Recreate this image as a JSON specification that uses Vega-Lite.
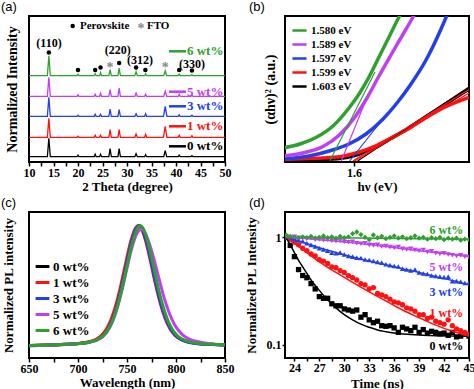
{
"$schema": "https://vega.github.io/schema/vega-lite/v6.json",
"padding": 0,
"background": "white",
"config": {
 "view": {"stroke": "#000", "strokeWidth": 2},
 "font": "Liberation Serif",
 "axis": {"domain": false, "grid": false, "labelFont": "Liberation Serif", "labelFontWeight": "bold", "labelFontSize": 12, "labelColor": "#000", "titleFont": "Liberation Serif", "titleFontWeight": "bold", "titleFontSize": 13, "titleColor": "#000", "tickColor": "#000", "tickWidth": 1.5, "tickSize": 4, "labelPadding": 1, "titlePadding": 2, "labelFlush": false, "labelOverlap": false},
 "legend": {"labelFont": "Liberation Serif", "labelFontWeight": "bold", "labelColor": "#000"},
 "title": {"font": "Liberation Sans", "fontWeight": "normal", "fontSize": 13, "color": "#000"}
},
"datasets": {
 "xrd": [
  {"s":"0 wt%","x":10,"y":5.3},{"s":"0 wt%","x":13.75,"y":5.3},{"s":"0 wt%","x":14.05,"y":23.8},{"s":"0 wt%","x":14.35,"y":5.3},{"s":"0 wt%","x":19.8,"y":5.3},{"s":"0 wt%","x":20,"y":6.8},{"s":"0 wt%","x":20.2,"y":5.3},{"s":"0 wt%","x":23.3,"y":5.3},{"s":"0 wt%","x":23.5,"y":7.8},{"s":"0 wt%","x":23.7,"y":5.3},{"s":"0 wt%","x":24.4,"y":5.3},{"s":"0 wt%","x":24.6,"y":7.8},{"s":"0 wt%","x":24.8,"y":5.3},{"s":"0 wt%","x":26.3,"y":5.3},{"s":"0 wt%","x":26.55,"y":13.3},{"s":"0 wt%","x":26.8,"y":5.3},{"s":"0 wt%","x":28.15,"y":5.3},{"s":"0 wt%","x":28.4,"y":13.3},{"s":"0 wt%","x":28.65,"y":5.3},{"s":"0 wt%","x":31.6,"y":5.3},{"s":"0 wt%","x":31.85,"y":8.3},{"s":"0 wt%","x":32.1,"y":5.3},{"s":"0 wt%","x":33.6,"y":5.3},{"s":"0 wt%","x":33.8,"y":7.3},{"s":"0 wt%","x":34,"y":5.3},{"s":"0 wt%","x":37.5,"y":5.3},{"s":"0 wt%","x":37.8,"y":11.3},{"s":"0 wt%","x":38.1,"y":5.3},{"s":"0 wt%","x":40.45,"y":5.3},{"s":"0 wt%","x":40.65,"y":6.8},{"s":"0 wt%","x":40.85,"y":5.3},{"s":"0 wt%","x":43.05,"y":5.3},{"s":"0 wt%","x":43.25,"y":6.3},{"s":"0 wt%","x":43.45,"y":5.3},{"s":"0 wt%","x":50,"y":5.3},
  {"s":"1 wt%","x":10,"y":24.7},{"s":"1 wt%","x":13.75,"y":24.7},{"s":"1 wt%","x":14.05,"y":43.7},{"s":"1 wt%","x":14.35,"y":24.7},{"s":"1 wt%","x":19.8,"y":24.7},{"s":"1 wt%","x":20,"y":25.7},{"s":"1 wt%","x":20.2,"y":24.7},{"s":"1 wt%","x":23.3,"y":24.7},{"s":"1 wt%","x":23.5,"y":26.7},{"s":"1 wt%","x":23.7,"y":24.7},{"s":"1 wt%","x":24.4,"y":24.7},{"s":"1 wt%","x":24.6,"y":26.7},{"s":"1 wt%","x":24.8,"y":24.7},{"s":"1 wt%","x":26.3,"y":24.7},{"s":"1 wt%","x":26.55,"y":32.3},{"s":"1 wt%","x":26.8,"y":24.7},{"s":"1 wt%","x":28.15,"y":24.7},{"s":"1 wt%","x":28.4,"y":32.3},{"s":"1 wt%","x":28.65,"y":24.7},{"s":"1 wt%","x":31.6,"y":24.7},{"s":"1 wt%","x":31.85,"y":28},{"s":"1 wt%","x":32.1,"y":24.7},{"s":"1 wt%","x":33.6,"y":24.7},{"s":"1 wt%","x":33.8,"y":27.7},{"s":"1 wt%","x":34,"y":24.7},{"s":"1 wt%","x":37.45,"y":24.7},{"s":"1 wt%","x":37.8,"y":35.7},{"s":"1 wt%","x":38.15,"y":24.7},{"s":"1 wt%","x":40.45,"y":24.7},{"s":"1 wt%","x":40.65,"y":26.7},{"s":"1 wt%","x":40.85,"y":24.7},{"s":"1 wt%","x":43.05,"y":24.7},{"s":"1 wt%","x":43.25,"y":26.2},{"s":"1 wt%","x":43.45,"y":24.7},{"s":"1 wt%","x":50,"y":24.7},
  {"s":"3 wt%","x":10,"y":45.7},{"s":"3 wt%","x":13.75,"y":45.7},{"s":"3 wt%","x":14.05,"y":64.7},{"s":"3 wt%","x":14.35,"y":45.7},{"s":"3 wt%","x":19.8,"y":45.7},{"s":"3 wt%","x":20,"y":46.7},{"s":"3 wt%","x":20.2,"y":45.7},{"s":"3 wt%","x":23.3,"y":45.7},{"s":"3 wt%","x":23.5,"y":47.7},{"s":"3 wt%","x":23.7,"y":45.7},{"s":"3 wt%","x":24.4,"y":45.7},{"s":"3 wt%","x":24.6,"y":47.7},{"s":"3 wt%","x":24.8,"y":45.7},{"s":"3 wt%","x":26.3,"y":45.7},{"s":"3 wt%","x":26.55,"y":53},{"s":"3 wt%","x":26.8,"y":45.7},{"s":"3 wt%","x":28.15,"y":45.7},{"s":"3 wt%","x":28.4,"y":52.4},{"s":"3 wt%","x":28.65,"y":45.7},{"s":"3 wt%","x":31.6,"y":45.7},{"s":"3 wt%","x":31.85,"y":48.2},{"s":"3 wt%","x":32.1,"y":45.7},{"s":"3 wt%","x":33.6,"y":45.7},{"s":"3 wt%","x":33.8,"y":48.2},{"s":"3 wt%","x":34,"y":45.7},{"s":"3 wt%","x":37.45,"y":45.7},{"s":"3 wt%","x":37.8,"y":55.7},{"s":"3 wt%","x":38.15,"y":45.7},{"s":"3 wt%","x":40.45,"y":45.7},{"s":"3 wt%","x":40.65,"y":47.2},{"s":"3 wt%","x":40.85,"y":45.7},{"s":"3 wt%","x":43.05,"y":45.7},{"s":"3 wt%","x":43.25,"y":46.7},{"s":"3 wt%","x":43.45,"y":45.7},{"s":"3 wt%","x":50,"y":45.7},
  {"s":"5 wt%","x":10,"y":65.7},{"s":"5 wt%","x":13.75,"y":65.7},{"s":"5 wt%","x":14.05,"y":84.7},{"s":"5 wt%","x":14.35,"y":65.7},{"s":"5 wt%","x":19.8,"y":65.7},{"s":"5 wt%","x":20,"y":67.2},{"s":"5 wt%","x":20.2,"y":65.7},{"s":"5 wt%","x":23.3,"y":65.7},{"s":"5 wt%","x":23.5,"y":67.7},{"s":"5 wt%","x":23.7,"y":65.7},{"s":"5 wt%","x":24.4,"y":65.7},{"s":"5 wt%","x":24.6,"y":68.7},{"s":"5 wt%","x":24.8,"y":65.7},{"s":"5 wt%","x":26.3,"y":65.7},{"s":"5 wt%","x":26.55,"y":72.4},{"s":"5 wt%","x":26.8,"y":65.7},{"s":"5 wt%","x":28.15,"y":65.7},{"s":"5 wt%","x":28.4,"y":74},{"s":"5 wt%","x":28.65,"y":65.7},{"s":"5 wt%","x":31.6,"y":65.7},{"s":"5 wt%","x":31.85,"y":69},{"s":"5 wt%","x":32.1,"y":65.7},{"s":"5 wt%","x":33.6,"y":65.7},{"s":"5 wt%","x":33.8,"y":67.7},{"s":"5 wt%","x":34,"y":65.7},{"s":"5 wt%","x":37.5,"y":65.7},{"s":"5 wt%","x":37.8,"y":70.7},{"s":"5 wt%","x":38.1,"y":65.7},{"s":"5 wt%","x":40.45,"y":65.7},{"s":"5 wt%","x":40.65,"y":67.7},{"s":"5 wt%","x":40.85,"y":65.7},{"s":"5 wt%","x":43.05,"y":65.7},{"s":"5 wt%","x":43.25,"y":66.7},{"s":"5 wt%","x":43.45,"y":65.7},{"s":"5 wt%","x":50,"y":65.7},
  {"s":"6 wt%","x":10,"y":86.3},{"s":"6 wt%","x":13.75,"y":86.3},{"s":"6 wt%","x":14.05,"y":106.3},{"s":"6 wt%","x":14.35,"y":86.3},{"s":"6 wt%","x":19.8,"y":86.3},{"s":"6 wt%","x":20,"y":87.8},{"s":"6 wt%","x":20.2,"y":86.3},{"s":"6 wt%","x":23.3,"y":86.3},{"s":"6 wt%","x":23.5,"y":88.3},{"s":"6 wt%","x":23.7,"y":86.3},{"s":"6 wt%","x":24.4,"y":86.3},{"s":"6 wt%","x":24.6,"y":89.3},{"s":"6 wt%","x":24.8,"y":86.3},{"s":"6 wt%","x":26.3,"y":86.3},{"s":"6 wt%","x":26.55,"y":92.3},{"s":"6 wt%","x":26.8,"y":86.3},{"s":"6 wt%","x":28.15,"y":86.3},{"s":"6 wt%","x":28.4,"y":94},{"s":"6 wt%","x":28.65,"y":86.3},{"s":"6 wt%","x":31.6,"y":86.3},{"s":"6 wt%","x":31.85,"y":90.3},{"s":"6 wt%","x":32.1,"y":86.3},{"s":"6 wt%","x":33.6,"y":86.3},{"s":"6 wt%","x":33.8,"y":88.3},{"s":"6 wt%","x":34,"y":86.3},{"s":"6 wt%","x":37.5,"y":86.3},{"s":"6 wt%","x":37.8,"y":91.3},{"s":"6 wt%","x":38.1,"y":86.3},{"s":"6 wt%","x":40.45,"y":86.3},{"s":"6 wt%","x":40.65,"y":87.8},{"s":"6 wt%","x":40.85,"y":86.3},{"s":"6 wt%","x":43.05,"y":86.3},{"s":"6 wt%","x":43.25,"y":87.3},{"s":"6 wt%","x":43.45,"y":86.3},{"s":"6 wt%","x":50,"y":86.3}
 ],
 "xrdseg": [
  {"s":"6 wt%","x":38.57,"x2":42.04,"y":110.7},{"s":"5 wt%","x":38.57,"x2":42.04,"y":70.3},{"s":"3 wt%","x":38.57,"x2":42.04,"y":55.7},{"s":"1 wt%","x":38.57,"x2":42.04,"y":35.7},{"s":"0 wt%","x":38.57,"x2":42.04,"y":15.7}
 ],
 "xrdlab": [
  {"s":"6 wt%","x":42.24,"y":110.7},{"s":"5 wt%","x":42.24,"y":70.3},{"s":"3 wt%","x":42.24,"y":55.7},{"s":"1 wt%","x":42.24,"y":35.7},{"s":"0 wt%","x":42.24,"y":15.7}
 ],
 "xrdpk": [
  {"t":"(110)","x":14.08,"y":119.5},{"t":"(220)","x":28.1,"y":111.7},{"t":"(312)","x":32.65,"y":102},{"t":"(330)","x":43.27,"y":98.4}
 ],
 "xrddot": [
  {"x":14.05,"y":109.4},{"x":20.0,"y":92},{"x":23.5,"y":92},{"x":24.6,"y":94.5},{"x":28.4,"y":99},{"x":31.85,"y":94.5},{"x":33.75,"y":92},{"x":40.65,"y":92},{"x":43.25,"y":91.5},{"x":18.92,"y":136}
 ],
 "xrdstar": [
  {"x":26.55,"y":97},{"x":37.8,"y":97},{"x":32.86,"y":136}
 ],
 "xrdleg": [
  {"t":"Perovskite","x":20.41,"y":136},{"t":"FTO","x":34.08,"y":136}
 ],
 "tauc": [
  {"s":"1.603 eV","e":1.5408,"y":0.5},{"s":"1.603 eV","e":1.5683,"y":1.2},{"s":"1.603 eV","e":1.5892,"y":2.8},{"s":"1.603 eV","e":1.6033,"y":6.5},{"s":"1.603 eV","e":1.6167,"y":13},{"s":"1.603 eV","e":1.6308,"y":22.5},{"s":"1.603 eV","e":1.645,"y":32.5},{"s":"1.603 eV","e":1.6583,"y":43},{"s":"1.603 eV","e":1.6725,"y":54},{"s":"1.603 eV","e":1.6958,"y":72},
  {"s":"1.599 eV","e":1.5408,"y":1.5},{"s":"1.599 eV","e":1.5683,"y":2.7},{"s":"1.599 eV","e":1.5892,"y":4.5},{"s":"1.599 eV","e":1.6033,"y":8.5},{"s":"1.599 eV","e":1.6167,"y":14.5},{"s":"1.599 eV","e":1.6308,"y":23},{"s":"1.599 eV","e":1.645,"y":32},{"s":"1.599 eV","e":1.6583,"y":42},{"s":"1.599 eV","e":1.6725,"y":52},{"s":"1.599 eV","e":1.6958,"y":63.5},
  {"s":"1.597 eV","e":1.5408,"y":2},{"s":"1.597 eV","e":1.5625,"y":5},{"s":"1.597 eV","e":1.5808,"y":10.5},{"s":"1.597 eV","e":1.5958,"y":17},{"s":"1.597 eV","e":1.61,"y":27},{"s":"1.597 eV","e":1.6242,"y":42},{"s":"1.597 eV","e":1.6358,"y":58},{"s":"1.597 eV","e":1.6475,"y":77},{"s":"1.597 eV","e":1.66,"y":101},{"s":"1.597 eV","e":1.6725,"y":132},{"s":"1.597 eV","e":1.6775,"y":146},{"s":"1.597 eV","e":1.6792,"y":151},
  {"s":"1.589 eV","e":1.5408,"y":5},{"s":"1.589 eV","e":1.5592,"y":8.5},{"s":"1.589 eV","e":1.5742,"y":14.5},{"s":"1.589 eV","e":1.5883,"y":26.5},{"s":"1.589 eV","e":1.6008,"y":44},{"s":"1.589 eV","e":1.6108,"y":63},{"s":"1.589 eV","e":1.6208,"y":85},{"s":"1.589 eV","e":1.6308,"y":106},{"s":"1.589 eV","e":1.64,"y":125},{"s":"1.589 eV","e":1.6492,"y":144},{"s":"1.589 eV","e":1.6525,"y":151},
  {"s":"1.580 eV","e":1.5408,"y":13},{"s":"1.580 eV","e":1.555,"y":17},{"s":"1.580 eV","e":1.5683,"y":23.5},{"s":"1.580 eV","e":1.5825,"y":35},{"s":"1.580 eV","e":1.5958,"y":53},{"s":"1.580 eV","e":1.6042,"y":67},{"s":"1.580 eV","e":1.6125,"y":84},{"s":"1.580 eV","e":1.6208,"y":104},{"s":"1.580 eV","e":1.6292,"y":124},{"s":"1.580 eV","e":1.6375,"y":144},{"s":"1.580 eV","e":1.6417,"y":153}
 ],
 "tangent": [
  {"s":"1.603 eV","g":"k","e":1.603,"y":0},{"s":"1.603 eV","g":"k","e":1.6958,"y":74},
  {"s":"1.599 eV","g":"r1","e":1.599,"y":0},{"s":"1.599 eV","g":"r1","e":1.6958,"y":71.5},
  {"s":"1.599 eV","g":"r2","e":1.6005,"y":0},{"s":"1.599 eV","g":"r2","e":1.6958,"y":68},
  {"s":"1.597 eV","g":"b","e":1.5964,"y":0},{"s":"1.597 eV","g":"b","e":1.626,"y":45},
  {"s":"1.589 eV","g":"p","e":1.5894,"y":0},{"s":"1.589 eV","g":"p","e":1.6103,"y":62},
  {"s":"1.580 eV","g":"g","e":1.5798,"y":0},{"s":"1.580 eV","g":"g","e":1.6175,"y":89}
 ],
 "pl": [
  {"s":"0 wt%","w":650,"v":0.086},{"s":"0 wt%","w":660,"v":0.087},{"s":"0 wt%","w":670,"v":0.089},{"s":"0 wt%","w":680,"v":0.091},{"s":"0 wt%","w":690,"v":0.095},{"s":"0 wt%","w":700,"v":0.099},{"s":"0 wt%","w":710,"v":0.108},{"s":"0 wt%","w":720,"v":0.130},{"s":"0 wt%","w":725,"v":0.155},{"s":"0 wt%","w":730,"v":0.198},{"s":"0 wt%","w":735,"v":0.269},{"s":"0 wt%","w":740,"v":0.372},{"s":"0 wt%","w":745,"v":0.507},{"s":"0 wt%","w":750,"v":0.661},{"s":"0 wt%","w":755,"v":0.803},{"s":"0 wt%","w":760,"v":0.893},{"s":"0 wt%","w":762.5,"v":0.905},{"s":"0 wt%","w":765,"v":0.893},{"s":"0 wt%","w":770,"v":0.803},{"s":"0 wt%","w":775,"v":0.661},{"s":"0 wt%","w":780,"v":0.507},{"s":"0 wt%","w":785,"v":0.372},{"s":"0 wt%","w":790,"v":0.269},{"s":"0 wt%","w":795,"v":0.198},{"s":"0 wt%","w":800,"v":0.155},{"s":"0 wt%","w":805,"v":0.130},{"s":"0 wt%","w":810,"v":0.116},{"s":"0 wt%","w":820,"v":0.102},{"s":"0 wt%","w":830,"v":0.096},{"s":"0 wt%","w":840,"v":0.093},{"s":"0 wt%","w":850,"v":0.090},
  {"s":"1 wt%","w":650,"v":0.086},{"s":"1 wt%","w":659,"v":0.087},{"s":"1 wt%","w":669,"v":0.089},{"s":"1 wt%","w":679,"v":0.091},{"s":"1 wt%","w":689,"v":0.095},{"s":"1 wt%","w":699,"v":0.099},{"s":"1 wt%","w":709,"v":0.108},{"s":"1 wt%","w":719,"v":0.130},{"s":"1 wt%","w":724,"v":0.155},{"s":"1 wt%","w":729,"v":0.198},{"s":"1 wt%","w":734,"v":0.269},{"s":"1 wt%","w":739,"v":0.372},{"s":"1 wt%","w":744,"v":0.507},{"s":"1 wt%","w":749,"v":0.661},{"s":"1 wt%","w":754,"v":0.803},{"s":"1 wt%","w":759,"v":0.893},{"s":"1 wt%","w":761.5,"v":0.905},{"s":"1 wt%","w":764,"v":0.893},{"s":"1 wt%","w":769,"v":0.803},{"s":"1 wt%","w":774,"v":0.661},{"s":"1 wt%","w":779,"v":0.507},{"s":"1 wt%","w":784,"v":0.372},{"s":"1 wt%","w":789,"v":0.269},{"s":"1 wt%","w":794,"v":0.198},{"s":"1 wt%","w":799,"v":0.155},{"s":"1 wt%","w":804,"v":0.130},{"s":"1 wt%","w":809,"v":0.116},{"s":"1 wt%","w":819,"v":0.102},{"s":"1 wt%","w":829,"v":0.096},{"s":"1 wt%","w":839,"v":0.093},{"s":"1 wt%","w":850,"v":0.090},
  {"s":"3 wt%","w":650,"v":0.084},{"s":"3 wt%","w":660,"v":0.085},{"s":"3 wt%","w":670,"v":0.087},{"s":"3 wt%","w":680,"v":0.090},{"s":"3 wt%","w":690,"v":0.094},{"s":"3 wt%","w":700,"v":0.098},{"s":"3 wt%","w":710,"v":0.106},{"s":"3 wt%","w":720,"v":0.127},{"s":"3 wt%","w":725,"v":0.150},{"s":"3 wt%","w":730,"v":0.192},{"s":"3 wt%","w":735,"v":0.262},{"s":"3 wt%","w":740,"v":0.365},{"s":"3 wt%","w":745,"v":0.503},{"s":"3 wt%","w":750,"v":0.660},{"s":"3 wt%","w":755,"v":0.805},{"s":"3 wt%","w":760,"v":0.895},{"s":"3 wt%","w":762,"v":0.905},{"s":"3 wt%","w":765,"v":0.890},{"s":"3 wt%","w":770,"v":0.795},{"s":"3 wt%","w":775,"v":0.650},{"s":"3 wt%","w":780,"v":0.495},{"s":"3 wt%","w":785,"v":0.362},{"s":"3 wt%","w":790,"v":0.262},{"s":"3 wt%","w":795,"v":0.193},{"s":"3 wt%","w":800,"v":0.151},{"s":"3 wt%","w":805,"v":0.127},{"s":"3 wt%","w":810,"v":0.113},{"s":"3 wt%","w":820,"v":0.100},{"s":"3 wt%","w":830,"v":0.094},{"s":"3 wt%","w":840,"v":0.091},{"s":"3 wt%","w":850,"v":0.088},
  {"s":"5 wt%","w":650,"v":0.085},{"s":"5 wt%","w":660,"v":0.086},{"s":"5 wt%","w":670,"v":0.088},{"s":"5 wt%","w":680,"v":0.090},{"s":"5 wt%","w":690,"v":0.094},{"s":"5 wt%","w":700,"v":0.098},{"s":"5 wt%","w":710,"v":0.106},{"s":"5 wt%","w":720,"v":0.124},{"s":"5 wt%","w":725,"v":0.145},{"s":"5 wt%","w":730,"v":0.182},{"s":"5 wt%","w":735,"v":0.245},{"s":"5 wt%","w":740,"v":0.340},{"s":"5 wt%","w":745,"v":0.468},{"s":"5 wt%","w":750,"v":0.615},{"s":"5 wt%","w":755,"v":0.755},{"s":"5 wt%","w":760,"v":0.850},{"s":"5 wt%","w":764,"v":0.880},{"s":"5 wt%","w":767,"v":0.872},{"s":"5 wt%","w":772,"v":0.800},{"s":"5 wt%","w":778,"v":0.665},{"s":"5 wt%","w":783,"v":0.535},{"s":"5 wt%","w":788,"v":0.410},{"s":"5 wt%","w":793,"v":0.310},{"s":"5 wt%","w":798,"v":0.235},{"s":"5 wt%","w":803,"v":0.185},{"s":"5 wt%","w":808,"v":0.152},{"s":"5 wt%","w":814,"v":0.128},{"s":"5 wt%","w":825,"v":0.108},{"s":"5 wt%","w":835,"v":0.098},{"s":"5 wt%","w":845,"v":0.092},{"s":"5 wt%","w":850,"v":0.090},
  {"s":"6 wt%","w":650,"v":0.086},{"s":"6 wt%","w":661,"v":0.087},{"s":"6 wt%","w":671,"v":0.089},{"s":"6 wt%","w":681,"v":0.091},{"s":"6 wt%","w":691,"v":0.095},{"s":"6 wt%","w":701,"v":0.099},{"s":"6 wt%","w":711,"v":0.108},{"s":"6 wt%","w":721,"v":0.130},{"s":"6 wt%","w":726,"v":0.155},{"s":"6 wt%","w":731,"v":0.198},{"s":"6 wt%","w":736,"v":0.269},{"s":"6 wt%","w":741,"v":0.372},{"s":"6 wt%","w":746,"v":0.507},{"s":"6 wt%","w":751,"v":0.661},{"s":"6 wt%","w":756,"v":0.803},{"s":"6 wt%","w":761,"v":0.893},{"s":"6 wt%","w":763.5,"v":0.905},{"s":"6 wt%","w":766,"v":0.893},{"s":"6 wt%","w":771,"v":0.803},{"s":"6 wt%","w":776,"v":0.661},{"s":"6 wt%","w":781,"v":0.507},{"s":"6 wt%","w":786,"v":0.372},{"s":"6 wt%","w":791,"v":0.269},{"s":"6 wt%","w":796,"v":0.198},{"s":"6 wt%","w":801,"v":0.155},{"s":"6 wt%","w":806,"v":0.130},{"s":"6 wt%","w":811,"v":0.116},{"s":"6 wt%","w":821,"v":0.102},{"s":"6 wt%","w":831,"v":0.096},{"s":"6 wt%","w":841,"v":0.093},{"s":"6 wt%","w":850,"v":0.090}
 ],
 "trpl": [
  {"s":"0 wt%","t":23.0,"v":1.0},{"s":"0 wt%","t":23.5,"v":0.84},{"s":"0 wt%","t":24.0,"v":0.66},{"s":"0 wt%","t":24.5,"v":0.5},{"s":"0 wt%","t":25.0,"v":0.44},{"s":"0 wt%","t":25.5,"v":0.42},{"s":"0 wt%","t":26.0,"v":0.37},{"s":"0 wt%","t":26.5,"v":0.33},{"s":"0 wt%","t":27.0,"v":0.28},{"s":"0 wt%","t":27.5,"v":0.27},{"s":"0 wt%","t":28.0,"v":0.27},{"s":"0 wt%","t":28.5,"v":0.24},{"s":"0 wt%","t":29.0,"v":0.23},{"s":"0 wt%","t":29.5,"v":0.23},{"s":"0 wt%","t":30.0,"v":0.215},{"s":"0 wt%","t":30.5,"v":0.21},{"s":"0 wt%","t":31.0,"v":0.205},{"s":"0 wt%","t":31.5,"v":0.21},{"s":"0 wt%","t":32.0,"v":0.18},{"s":"0 wt%","t":32.5,"v":0.19},{"s":"0 wt%","t":33.0,"v":0.17},{"s":"0 wt%","t":33.5,"v":0.16},{"s":"0 wt%","t":34.0,"v":0.165},{"s":"0 wt%","t":34.5,"v":0.15},{"s":"0 wt%","t":35.0,"v":0.148},{"s":"0 wt%","t":35.5,"v":0.15},{"s":"0 wt%","t":36.0,"v":0.143},{"s":"0 wt%","t":36.5,"v":0.13},{"s":"0 wt%","t":37.0,"v":0.145},{"s":"0 wt%","t":37.5,"v":0.14},{"s":"0 wt%","t":38.0,"v":0.135},{"s":"0 wt%","t":38.5,"v":0.145},{"s":"0 wt%","t":39.0,"v":0.13},{"s":"0 wt%","t":39.5,"v":0.138},{"s":"0 wt%","t":40.0,"v":0.128},{"s":"0 wt%","t":40.5,"v":0.133},{"s":"0 wt%","t":41.0,"v":0.13},{"s":"0 wt%","t":41.5,"v":0.126},{"s":"0 wt%","t":42.0,"v":0.128},{"s":"0 wt%","t":42.5,"v":0.122},{"s":"0 wt%","t":43.0,"v":0.13},{"s":"0 wt%","t":43.5,"v":0.118},{"s":"0 wt%","t":44.0,"v":0.12},{"s":"0 wt%","t":44.5,"v":0.125},{"s":"0 wt%","t":45.0,"v":0.12},
  {"s":"1 wt%","t":23.0,"v":1.0},{"s":"1 wt%","t":23.5,"v":0.96},{"s":"1 wt%","t":24.0,"v":0.9},{"s":"1 wt%","t":24.5,"v":0.85},{"s":"1 wt%","t":25.0,"v":0.79},{"s":"1 wt%","t":25.5,"v":0.75},{"s":"1 wt%","t":26.0,"v":0.7},{"s":"1 wt%","t":26.5,"v":0.67},{"s":"1 wt%","t":27.0,"v":0.62},{"s":"1 wt%","t":27.5,"v":0.6},{"s":"1 wt%","t":28.0,"v":0.57},{"s":"1 wt%","t":28.5,"v":0.53},{"s":"1 wt%","t":29.0,"v":0.52},{"s":"1 wt%","t":29.5,"v":0.49},{"s":"1 wt%","t":30.0,"v":0.47},{"s":"1 wt%","t":30.5,"v":0.44},{"s":"1 wt%","t":31.0,"v":0.42},{"s":"1 wt%","t":31.5,"v":0.4},{"s":"1 wt%","t":32.0,"v":0.37},{"s":"1 wt%","t":32.5,"v":0.36},{"s":"1 wt%","t":33.0,"v":0.33},{"s":"1 wt%","t":33.5,"v":0.34},{"s":"1 wt%","t":34.0,"v":0.3},{"s":"1 wt%","t":34.5,"v":0.29},{"s":"1 wt%","t":35.0,"v":0.28},{"s":"1 wt%","t":35.5,"v":0.265},{"s":"1 wt%","t":36.0,"v":0.25},{"s":"1 wt%","t":36.5,"v":0.245},{"s":"1 wt%","t":37.0,"v":0.235},{"s":"1 wt%","t":37.5,"v":0.22},{"s":"1 wt%","t":38.0,"v":0.215},{"s":"1 wt%","t":38.5,"v":0.205},{"s":"1 wt%","t":39.0,"v":0.19},{"s":"1 wt%","t":39.5,"v":0.19},{"s":"1 wt%","t":40.0,"v":0.175},{"s":"1 wt%","t":40.5,"v":0.18},{"s":"1 wt%","t":41.0,"v":0.165},{"s":"1 wt%","t":41.5,"v":0.16},{"s":"1 wt%","t":42.0,"v":0.155},{"s":"1 wt%","t":42.5,"v":0.17},{"s":"1 wt%","t":43.0,"v":0.15},{"s":"1 wt%","t":43.5,"v":0.14},{"s":"1 wt%","t":44.0,"v":0.135},{"s":"1 wt%","t":44.5,"v":0.13},{"s":"1 wt%","t":45.0,"v":0.125},
  {"s":"3 wt%","t":23.0,"v":1.0},{"s":"3 wt%","t":23.5,"v":0.98},{"s":"3 wt%","t":24.0,"v":0.96},{"s":"3 wt%","t":24.5,"v":0.94},{"s":"3 wt%","t":25.0,"v":0.92},{"s":"3 wt%","t":25.5,"v":0.88},{"s":"3 wt%","t":26.0,"v":0.85},{"s":"3 wt%","t":26.5,"v":0.82},{"s":"3 wt%","t":27.0,"v":0.79},{"s":"3 wt%","t":27.5,"v":0.77},{"s":"3 wt%","t":28.0,"v":0.75},{"s":"3 wt%","t":28.5,"v":0.72},{"s":"3 wt%","t":29.0,"v":0.71},{"s":"3 wt%","t":29.5,"v":0.72},{"s":"3 wt%","t":30.0,"v":0.69},{"s":"3 wt%","t":30.5,"v":0.67},{"s":"3 wt%","t":31.0,"v":0.66},{"s":"3 wt%","t":31.5,"v":0.645},{"s":"3 wt%","t":32.0,"v":0.64},{"s":"3 wt%","t":32.5,"v":0.62},{"s":"3 wt%","t":33.0,"v":0.615},{"s":"3 wt%","t":33.5,"v":0.6},{"s":"3 wt%","t":34.0,"v":0.59},{"s":"3 wt%","t":34.5,"v":0.58},{"s":"3 wt%","t":35.0,"v":0.56},{"s":"3 wt%","t":35.5,"v":0.55},{"s":"3 wt%","t":36.0,"v":0.54},{"s":"3 wt%","t":36.5,"v":0.535},{"s":"3 wt%","t":37.0,"v":0.51},{"s":"3 wt%","t":37.5,"v":0.5},{"s":"3 wt%","t":38.0,"v":0.49},{"s":"3 wt%","t":38.5,"v":0.5},{"s":"3 wt%","t":39.0,"v":0.47},{"s":"3 wt%","t":39.5,"v":0.46},{"s":"3 wt%","t":40.0,"v":0.455},{"s":"3 wt%","t":40.5,"v":0.44},{"s":"3 wt%","t":41.0,"v":0.435},{"s":"3 wt%","t":41.5,"v":0.43},{"s":"3 wt%","t":42.0,"v":0.425},{"s":"3 wt%","t":42.5,"v":0.43},{"s":"3 wt%","t":43.0,"v":0.39},{"s":"3 wt%","t":43.5,"v":0.39},{"s":"3 wt%","t":44.0,"v":0.385},{"s":"3 wt%","t":44.5,"v":0.375},{"s":"3 wt%","t":45.0,"v":0.38},
  {"s":"5 wt%","t":23.0,"v":1.02},{"s":"5 wt%","t":23.5,"v":1.0},{"s":"5 wt%","t":24.0,"v":1.01},{"s":"5 wt%","t":24.5,"v":0.99},{"s":"5 wt%","t":25.0,"v":0.98},{"s":"5 wt%","t":25.5,"v":0.97},{"s":"5 wt%","t":26.0,"v":0.98},{"s":"5 wt%","t":26.5,"v":0.95},{"s":"5 wt%","t":27.0,"v":0.96},{"s":"5 wt%","t":27.5,"v":0.94},{"s":"5 wt%","t":28.0,"v":0.95},{"s":"5 wt%","t":28.5,"v":0.93},{"s":"5 wt%","t":29.0,"v":0.92},{"s":"5 wt%","t":29.5,"v":0.93},{"s":"5 wt%","t":30.0,"v":0.91},{"s":"5 wt%","t":30.5,"v":0.9},{"s":"5 wt%","t":31.0,"v":0.91},{"s":"5 wt%","t":31.5,"v":0.88},{"s":"5 wt%","t":32.0,"v":0.87},{"s":"5 wt%","t":32.5,"v":0.88},{"s":"5 wt%","t":33.0,"v":0.85},{"s":"5 wt%","t":33.5,"v":0.84},{"s":"5 wt%","t":34.0,"v":0.85},{"s":"5 wt%","t":34.5,"v":0.82},{"s":"5 wt%","t":35.0,"v":0.83},{"s":"5 wt%","t":35.5,"v":0.81},{"s":"5 wt%","t":36.0,"v":0.8},{"s":"5 wt%","t":36.5,"v":0.81},{"s":"5 wt%","t":37.0,"v":0.78},{"s":"5 wt%","t":37.5,"v":0.77},{"s":"5 wt%","t":38.0,"v":0.78},{"s":"5 wt%","t":38.5,"v":0.76},{"s":"5 wt%","t":39.0,"v":0.75},{"s":"5 wt%","t":39.5,"v":0.76},{"s":"5 wt%","t":40.0,"v":0.73},{"s":"5 wt%","t":40.5,"v":0.74},{"s":"5 wt%","t":41.0,"v":0.71},{"s":"5 wt%","t":41.5,"v":0.7},{"s":"5 wt%","t":42.0,"v":0.71},{"s":"5 wt%","t":42.5,"v":0.69},{"s":"5 wt%","t":43.0,"v":0.68},{"s":"5 wt%","t":43.5,"v":0.67},{"s":"5 wt%","t":44.0,"v":0.68},{"s":"5 wt%","t":44.5,"v":0.66},{"s":"5 wt%","t":45.0,"v":0.65},
  {"s":"6 wt%","t":23.0,"v":1.05},{"s":"6 wt%","t":23.5,"v":1.02},{"s":"6 wt%","t":24.0,"v":1.0},{"s":"6 wt%","t":24.5,"v":0.98},{"s":"6 wt%","t":25.0,"v":1.01},{"s":"6 wt%","t":25.5,"v":0.99},{"s":"6 wt%","t":26.0,"v":1.02},{"s":"6 wt%","t":26.5,"v":0.98},{"s":"6 wt%","t":27.0,"v":1.0},{"s":"6 wt%","t":27.5,"v":1.03},{"s":"6 wt%","t":28.0,"v":0.99},{"s":"6 wt%","t":28.5,"v":1.01},{"s":"6 wt%","t":29.0,"v":0.98},{"s":"6 wt%","t":29.5,"v":1.02},{"s":"6 wt%","t":30.0,"v":0.99},{"s":"6 wt%","t":30.5,"v":1.01},{"s":"6 wt%","t":31.0,"v":1.08},{"s":"6 wt%","t":31.5,"v":1.12},{"s":"6 wt%","t":32.0,"v":1.06},{"s":"6 wt%","t":32.5,"v":1.0},{"s":"6 wt%","t":33.0,"v":0.95},{"s":"6 wt%","t":33.5,"v":1.05},{"s":"6 wt%","t":34.0,"v":0.99},{"s":"6 wt%","t":34.5,"v":1.02},{"s":"6 wt%","t":35.0,"v":0.97},{"s":"6 wt%","t":35.5,"v":1.0},{"s":"6 wt%","t":36.0,"v":1.03},{"s":"6 wt%","t":36.5,"v":0.98},{"s":"6 wt%","t":37.0,"v":1.01},{"s":"6 wt%","t":37.5,"v":0.97},{"s":"6 wt%","t":38.0,"v":0.99},{"s":"6 wt%","t":38.5,"v":1.03},{"s":"6 wt%","t":39.0,"v":0.98},{"s":"6 wt%","t":39.5,"v":1.0},{"s":"6 wt%","t":40.0,"v":0.96},{"s":"6 wt%","t":40.5,"v":0.99},{"s":"6 wt%","t":41.0,"v":0.97},{"s":"6 wt%","t":41.5,"v":1.0},{"s":"6 wt%","t":42.0,"v":0.95},{"s":"6 wt%","t":42.5,"v":0.98},{"s":"6 wt%","t":43.0,"v":0.96},{"s":"6 wt%","t":43.5,"v":0.98},{"s":"6 wt%","t":44.0,"v":0.94},{"s":"6 wt%","t":44.5,"v":0.96},{"s":"6 wt%","t":45.0,"v":0.95}
 ],
 "trfit": [
  {"s":"0 wt%","t":23,"v":1.0},{"s":"0 wt%","t":23.5,"v":0.85},{"s":"0 wt%","t":24,"v":0.72},{"s":"0 wt%","t":24.5,"v":0.61},{"s":"0 wt%","t":25,"v":0.53},{"s":"0 wt%","t":25.5,"v":0.46},{"s":"0 wt%","t":26,"v":0.4},{"s":"0 wt%","t":27,"v":0.32},{"s":"0 wt%","t":28,"v":0.26},{"s":"0 wt%","t":29,"v":0.22},{"s":"0 wt%","t":30,"v":0.19},{"s":"0 wt%","t":31,"v":0.17},{"s":"0 wt%","t":32,"v":0.155},{"s":"0 wt%","t":33,"v":0.145},{"s":"0 wt%","t":34,"v":0.137},{"s":"0 wt%","t":35,"v":0.132},{"s":"0 wt%","t":36,"v":0.128},{"s":"0 wt%","t":38,"v":0.124},{"s":"0 wt%","t":41,"v":0.121},{"s":"0 wt%","t":45,"v":0.12},
  {"s":"1 wt%","t":23,"v":1.0},{"s":"1 wt%","t":25,"v":0.77},{"s":"1 wt%","t":27,"v":0.59},{"s":"1 wt%","t":29,"v":0.47},{"s":"1 wt%","t":31,"v":0.38},{"s":"1 wt%","t":33,"v":0.31},{"s":"1 wt%","t":35,"v":0.255},{"s":"1 wt%","t":37,"v":0.21},{"s":"1 wt%","t":39,"v":0.178},{"s":"1 wt%","t":41,"v":0.152},{"s":"1 wt%","t":43,"v":0.133},{"s":"1 wt%","t":45,"v":0.12},
  {"s":"3 wt%","t":23,"v":1.0},{"s":"3 wt%","t":25,"v":0.9},{"s":"3 wt%","t":27,"v":0.8},{"s":"3 wt%","t":29,"v":0.72},{"s":"3 wt%","t":31,"v":0.655},{"s":"3 wt%","t":33,"v":0.6},{"s":"3 wt%","t":35,"v":0.555},{"s":"3 wt%","t":37,"v":0.51},{"s":"3 wt%","t":39,"v":0.47},{"s":"3 wt%","t":41,"v":0.43},{"s":"3 wt%","t":43,"v":0.395},{"s":"3 wt%","t":45,"v":0.36},
  {"s":"5 wt%","t":23,"v":1.0},{"s":"5 wt%","t":27,"v":0.95},{"s":"5 wt%","t":31,"v":0.89},{"s":"5 wt%","t":35,"v":0.82},{"s":"5 wt%","t":39,"v":0.75},{"s":"5 wt%","t":43,"v":0.69},{"s":"5 wt%","t":45,"v":0.66},
  {"s":"6 wt%","t":23,"v":1.0},{"s":"6 wt%","t":34,"v":0.98},{"s":"6 wt%","t":45,"v":0.96}
 ],
 "trlab": [
  {"s":"6 wt%","t":44.3,"v":1.17},{"s":"5 wt%","t":44.3,"v":0.525},{"s":"3 wt%","t":44.3,"v":0.31},{"s":"1 wt%","t":44.3,"v":0.197},{"s":"0 wt%","t":44.3,"v":0.098}
 ]
},
"concat": [
 {
  "width": 196, "height": 146,
  "title": {"text": "(a)", "anchor": "start", "frame": "group", "dx": -28, "offset": 0, "baseline": "top", "dy": -2},
  "encoding": {
   "x": {"field": "x", "type": "quantitative", "scale": {"domain": [10, 50], "nice": false, "zero": false}, "axis": {"title": "2 Theta (degree)", "values": [10,12.5,15,17.5,20,22.5,25,27.5,30,32.5,35,37.5,40,42.5,45,47.5,50], "labelExpr": "datum.value % 5 === 0 ? datum.label : ''"}},
   "y": {"field": "y", "type": "quantitative", "scale": {"domain": [0, 146], "nice": false, "zero": false}, "axis": {"title": "Normalized Intensity", "labels": false, "ticks": false, "titlePadding": 10, "titleFontSize": 14}}
  },
  "layer": [
   {"data": {"name": "xrd"}, "mark": {"type": "line", "strokeWidth": 1.3, "clip": true},
    "encoding": {"color": {"field": "s", "type": "nominal", "scale": {"domain": ["0 wt%","1 wt%","3 wt%","5 wt%","6 wt%"], "range": ["#000000","#ff1111","#2340e8","#c03ff0","#2ea02e"]}, "legend": null}}},
   {"data": {"name": "xrdseg"}, "mark": {"type": "rule", "strokeWidth": 2.5},
    "encoding": {"x2": {"field": "x2"}, "color": {"field": "s", "type": "nominal", "legend": null}}},
   {"data": {"name": "xrdlab"}, "mark": {"type": "text", "align": "left", "baseline": "middle", "font": "Liberation Serif", "fontWeight": "bold", "fontSize": 13},
    "encoding": {"text": {"field": "s"}, "color": {"field": "s", "type": "nominal", "legend": null}}},
   {"data": {"name": "xrdpk"}, "mark": {"type": "text", "baseline": "middle", "font": "Liberation Serif", "fontWeight": "bold", "fontSize": 12, "color": "#000"},
    "encoding": {"text": {"field": "t"}}},
   {"data": {"name": "xrddot"}, "mark": {"type": "point", "filled": true, "color": "#000", "size": 20, "opacity": 1},
    "encoding": {}},
   {"data": {"name": "xrdstar"}, "mark": {"type": "text", "text": "*", "color": "#888888", "font": "Liberation Serif", "fontWeight": "bold", "fontSize": 14, "baseline": "middle", "dy": 3},
    "encoding": {}},
   {"data": {"name": "xrdleg"}, "mark": {"type": "text", "align": "left", "baseline": "middle", "font": "Liberation Serif", "fontWeight": "bold", "fontSize": 11, "color": "#000"},
    "encoding": {"text": {"field": "t"}}}
  ]
 },
 {
  "width": 184, "height": 146,
  "title": {"text": "(b)", "anchor": "start", "frame": "group", "dx": -36, "offset": 0, "baseline": "top", "dy": -2},
  "encoding": {
   "x": {"field": "e", "type": "quantitative", "scale": {"domain": [1.5425, 1.6958], "nice": false, "zero": false}, "axis": {"title": "hν (eV)", "values": [1.6], "format": ".1f"}},
   "y": {"field": "y", "type": "quantitative", "scale": {"domain": [-1, 145], "nice": false, "zero": false}, "axis": {"title": "(αhν)² (a.u.)", "labels": false, "ticks": false, "titlePadding": 8, "titleFontSize": 14}},
   "color": {"field": "s", "type": "nominal", "scale": {"domain": ["1.580 eV","1.589 eV","1.597 eV","1.599 eV","1.603 eV"], "range": ["#2ea02e","#c03ff0","#2340e8","#ff1111","#000000"]},
    "legend": {"title": null, "orient": "top-left", "offset": 6, "padding": 0, "symbolType": "stroke", "symbolStrokeWidth": 2.5, "symbolSize": 200, "labelFontSize": 11, "labelOffset": 3, "rowPadding": 0}}
  },
  "layer": [
   {"data": {"name": "tauc"}, "mark": {"type": "line", "strokeWidth": 3.5, "clip": true, "interpolate": "monotone"}},
   {"data": {"name": "tangent"}, "mark": {"type": "line", "strokeWidth": 1.2, "clip": true},
    "encoding": {"detail": {"field": "g"}}}
  ]
 },
 {
  "width": 196, "height": 146,
  "title": {"text": "(c)", "anchor": "start", "frame": "group", "dx": -28, "offset": 0, "baseline": "top", "dy": -2},
  "data": {"name": "pl"},
  "mark": {"type": "line", "clip": true, "interpolate": "monotone"},
  "encoding": {
   "x": {"field": "w", "type": "quantitative", "scale": {"domain": [650, 850], "nice": false, "zero": false}, "axis": {"title": "Wavelength (nm)", "values": [650,675,700,725,750,775,800,825,850], "labelExpr": "datum.value % 50 === 0 ? datum.label : ''"}},
   "y": {"field": "v", "type": "quantitative", "scale": {"domain": [0, 1], "nice": false, "zero": false}, "axis": {"title": "Normalized PL intensity", "labels": false, "ticks": false, "titlePadding": 14}},
   "color": {"field": "s", "type": "nominal", "scale": {"domain": ["0 wt%","1 wt%","3 wt%","5 wt%","6 wt%"], "range": ["#000000","#ff1111","#2340e8","#c03ff0","#2ea02e"]},
    "legend": {"title": null, "orient": "none", "legendX": 5, "legendY": 46, "padding": 0, "symbolType": "stroke", "symbolStrokeWidth": 4, "symbolSize": 190, "labelFontSize": 13, "labelOffset": 2, "rowPadding": 0}},
   "strokeWidth": {"field": "s", "type": "ordinal", "scale": {"domain": ["0 wt%","1 wt%","3 wt%","5 wt%","6 wt%"], "range": [3, 3, 3, 4, 5]}, "legend": null}
  }
 },
 {
  "width": 184, "height": 146,
  "title": {"text": "(d)", "anchor": "start", "frame": "group", "dx": -36, "offset": 0, "baseline": "top", "dy": -2},
  "encoding": {
   "x": {"field": "t", "type": "quantitative", "scale": {"domain": [22.87, 45], "nice": false, "zero": false}, "axis": {"title": "Time (ns)", "titleFontSize": 13, "titlePadding": 4, "values": [24,25.5,27,28.5,30,31.5,33,34.5,36,37.5,39,40.5,42,43.5,45], "labelExpr": "datum.value % 3 === 0 ? datum.label : ''", "tickSize": 3}},
   "y": {"field": "v", "type": "quantitative", "scale": {"type": "log", "domain": [0.075, 1.72], "nice": false}, "axis": {"title": "Normalized PL Intensity", "values": [0.1, 1], "format": "~g", "tickSize": 3, "titlePadding": 8}},
   "color": {"field": "s", "type": "nominal", "scale": {"domain": ["0 wt%","1 wt%","3 wt%","5 wt%","6 wt%"], "range": ["#000000","#ff1111","#2340e8","#c03ff0","#2ea02e"]}, "legend": null}
  },
  "layer": [
   {"data": {"name": "trpl"}, "mark": {"type": "point", "filled": true, "size": 28, "opacity": 1, "clip": true},
    "encoding": {"shape": {"field": "s", "type": "nominal", "scale": {"domain": ["0 wt%","1 wt%","3 wt%","5 wt%","6 wt%"], "range": ["square","circle","triangle-up","triangle-down","diamond"]}, "legend": null}}},
   {"data": {"name": "trfit"}, "mark": {"type": "line", "strokeWidth": 1.5, "interpolate": "monotone", "clip": true}},
   {"data": {"name": "trlab"}, "mark": {"type": "text", "align": "right", "baseline": "middle", "font": "Liberation Serif", "fontWeight": "bold", "fontSize": 12},
    "encoding": {"text": {"field": "s"}}}
  ]
 }
],
"columns": 2,
"spacing": {"row": 50, "column": 60},
"bounds": "flush",
"resolve": {"scale": {"color": "independent", "x": "independent", "y": "independent", "shape": "independent", "strokeWidth": "independent"}, "legend": {"color": "independent"}}
}
